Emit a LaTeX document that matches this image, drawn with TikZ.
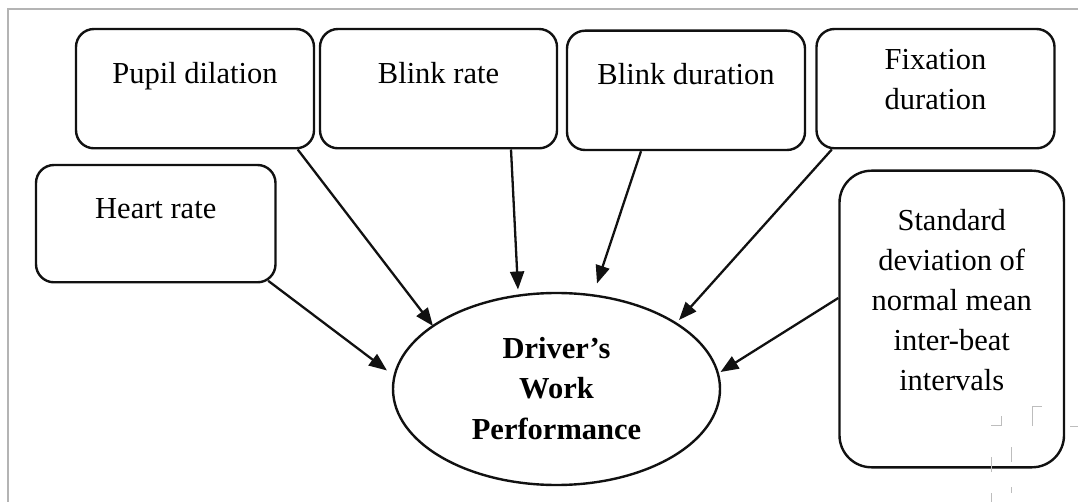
\documentclass[tikz,border=0pt]{standalone}
\usepackage{fontspec}
\setmainfont{Liberation Serif}
\usetikzlibrary{arrows.meta,shapes.geometric,calc}
\definecolor{ink}{HTML}{111111}
\definecolor{framegray}{HTML}{B4B4B4}
\definecolor{markgray}{HTML}{BDBDBD}
\begin{document}
\begin{tikzpicture}[x=1pt,y=-1pt,
  box/.style={draw=ink, line width=2.4pt, rounded corners=18pt, inner sep=0pt},
  lbl/.style={inner sep=0pt, anchor=north, align=center,
    font=\fontsize{30.5}{40}\selectfont, execute at begin node=\rule{0pt}{24pt}},
  arr/.style={draw=ink, line width=2.3pt, -{Triangle[length=18pt,width=14pt]}},
  cropmark/.style={draw=markgray, line width=1pt}
]
\useasboundingbox (0,0) rectangle (1078,502);

% page frame
\draw[framegray, line width=2pt] (1078,9) -- (8,9) -- (8,502);

% measure boxes
\node[box, minimum width=238pt, minimum height=119.3pt] (pd) at (195,88.65) {};
\node[box, minimum width=237pt, minimum height=119.3pt] (br) at (438.5,88.65) {};
\node[box, minimum width=238pt, minimum height=119.3pt] (bd) at (686,90.35) {};
\node[box, minimum width=238pt, minimum height=119.3pt] (fx) at (935.5,88.65) {};
\node[box, minimum width=239.5pt, minimum height=117.3pt] (hr) at (155.75,223.65) {};
\node[box, rounded corners=32pt, minimum width=224.5pt, minimum height=296.6pt] (st) at (951.75,319) {};

% box labels
\node[lbl] (pdT) at ($(pd.north)+(0,32)$) {Pupil dilation};
\node[lbl] (brT) at ($(br.north)+(0,32)$) {Blink rate};
\node[lbl] (bdT) at ($(bd.north)+(0,31.3)$) {Blink duration};
\node[lbl] (fxT) at ($(fx.north)+(0,21)$) {Fixation\\duration};
\node[lbl] (hrT) at ($(hr.north)+(0,31)$) {Heart rate};
\node[lbl] (stT) at ($(st.north)+(0,39.3)$) {Standard\\deviation of\\normal mean\\inter-beat\\intervals};

% outcome
\node[draw=ink, line width=2.4pt, ellipse, inner sep=0pt,
      minimum width=327pt, minimum height=192pt] (perf) at (556.5,389) {};
\node[lbl, font=\fontsize{30.5}{40.5}\selectfont\bfseries] (perfT) at ($(perf.center)+(0,-52)$)
  {Driver’s\\Work\\Performance};

% influences
\draw[arr] ($(pd.south east)+(-17.5,0)$) -- ($(perf.center)+(-123.5,-63)$);
\draw[arr] ($(br.south)+(72.5,0)$) -- ($(perf.center)+(-38.5,-99.5)$);
\draw[arr] ($(bd.south)+(-45,0)$) -- ($(perf.center)+(40.5,-105.5)$);
\draw[arr] ($(fx.south west)+(16.5,0)$) -- ($(perf.center)+(122.5,-69)$);
\draw[arr] ($(hr.south east)+(-8.5,-2.7)$) -- ($(perf.center)+(-169.5,-18.5)$);
\draw[arr] ($(st.west)+(0,-21)$) -- ($(perf.center)+(164,-17)$);

% crop marks
\draw[cropmark] (1001,416) -- (1001,425) -- (991,425);
\draw[cropmark] (1032,426) -- (1032,406) -- (1042,406);
\draw[cropmark] (1070,426) -- (1078,426);
\draw[cropmark] (991,457) -- (991,472);
\draw[cropmark] (991,493) -- (991,502);
\draw[cropmark] (1011,447) -- (1011,462);
\draw[cropmark] (1011,487) -- (1011,493);
\end{tikzpicture}
\end{document}
